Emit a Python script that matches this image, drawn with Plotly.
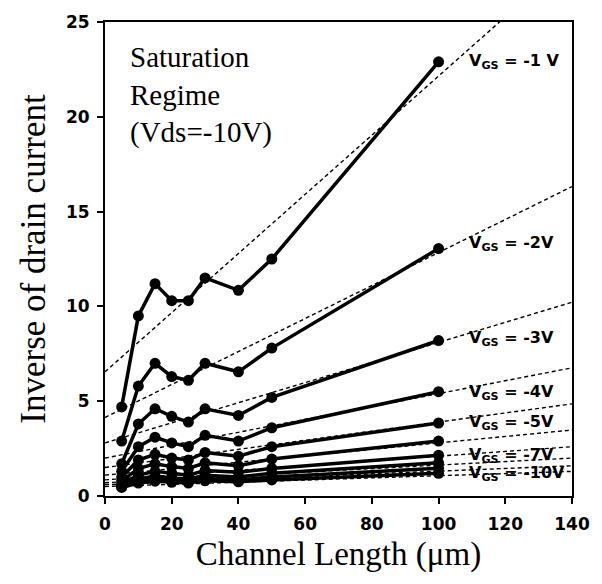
import plotly.graph_objects as go

# Channel lengths (um)
lengths = [5, 10, 15, 20, 25, 30, 40, 50, 100]

# Inverse drain current for each gate voltage
vgs_labels = ["-1 V", "-2V", "-3V", "-4V", "-5V", "-6V", "-7V", "-8V", "-9V", "-10V"]
inv_id = {
    "-1 V": [4.7, 9.5, 11.2, 10.3, 10.3, 11.5, 10.85, 12.5, 22.9],
    "-2V": [2.9, 5.8, 7.0, 6.3, 6.1, 7.0, 6.55, 7.8, 13.05],
    "-3V": [1.7, 3.8, 4.6, 4.2, 3.9, 4.6, 4.25, 5.2, 8.2],
    "-4V": [1.3, 2.6, 3.1, 2.8, 2.6, 3.2, 2.9, 3.6, 5.5],
    "-5V": [1.0, 1.9, 2.2, 2.0, 1.9, 2.3, 2.1, 2.6, 3.85],
    "-6V": [0.8, 1.45, 1.7, 1.55, 1.45, 1.75, 1.6, 1.95, 2.9],
    "-7V": [0.65, 1.1, 1.3, 1.2, 1.1, 1.35, 1.25, 1.45, 2.15],
    "-8V": [0.55, 0.9, 1.05, 0.95, 0.9, 1.1, 1.0, 1.2, 1.75],
    "-9V": [0.5, 0.78, 0.9, 0.82, 0.78, 0.92, 0.85, 1.0, 1.47],
    "-10V": [0.45, 0.68, 0.78, 0.72, 0.68, 0.8, 0.75, 0.85, 1.2],
}

# Linear fits (intercept, slope)
fit_intercept = [6.55, 4.14, 2.8, 2.0, 1.5, 1.1, 0.85, 0.7, 0.6, 0.5]
fit_slope = [0.156, 0.087, 0.053, 0.034, 0.024, 0.017, 0.0125, 0.0093, 0.0071, 0.0057]
fit_x_end = 140

# Labels shown on the right
shown_labels = ["-1 V", "-2V", "-3V", "-4V", "-5V", "-7V", "-10V"]
label_y = [22.9, 13.3, 8.3, 5.45, 3.9, 2.15, 1.2]
label_x = 108.5

fig = go.Figure()

for i, v in enumerate(vgs_labels):
    x0, x1 = 0, fit_x_end
    fig.add_trace(go.Scatter(
        x=[x0, x1],
        y=[fit_intercept[i] + fit_slope[i] * x0, fit_intercept[i] + fit_slope[i] * x1],
        mode="lines",
        line=dict(color="black", width=1.4, dash="4px,3px"),
        showlegend=False, hoverinfo="skip"))

for v in vgs_labels:
    fig.add_trace(go.Scatter(
        x=lengths, y=inv_id[v], mode="lines+markers",
        line=dict(color="black", width=3.5),
        marker=dict(color="black", size=11, symbol="circle"),
        showlegend=False, name=v))

for lab, ly in zip(shown_labels, label_y):
    fig.add_annotation(
        x=label_x, y=ly, xref="x", yref="y", xanchor="left", yanchor="middle",
        text="V<sub>GS</sub> = " + lab, showarrow=False,
        font=dict(family="DejaVu Sans", size=16, color="black", weight="bold"),
        bgcolor="rgba(0,0,0,0)")

fig.add_annotation(
    x=0.05, y=0.965, xref="paper", yref="paper", xanchor="left", yanchor="top",
    text="Saturation<br>Regime<br>(Vds=-10V)", showarrow=False, align="left",
    font=dict(family="Liberation Serif", size=29, color="black"))

axis_common = dict(
    showline=True, linecolor="black", linewidth=2, mirror=True,
    ticks="outside", ticklen=6, tickwidth=1.5, tickcolor="black",
    showgrid=False, zeroline=False,
    tickfont=dict(family="DejaVu Sans", size=17, color="black", weight="bold"),
)

fig.update_xaxes(range=[0, 140], tickvals=[0, 20, 40, 60, 80, 100, 120, 140],
                 ticklabelstandoff=6,
                 title=dict(text="Channel Length (μm)", standoff=8,
                            font=dict(family="Liberation Serif", size=33, color="black")),
                 **axis_common)
fig.update_yaxes(range=[0, 25], tickvals=[0, 5, 10, 15, 20, 25],
                 ticklabelstandoff=4,
                 title=dict(text="Inverse of drain current", standoff=10,
                            font=dict(family="Liberation Serif", size=35, color="black")),
                 **axis_common)

fig.update_layout(
    width=602, height=584,
    margin=dict(l=105, r=20, t=19, b=88),
    plot_bgcolor="white", paper_bgcolor="white",
)

fig.write_html("out.html")
